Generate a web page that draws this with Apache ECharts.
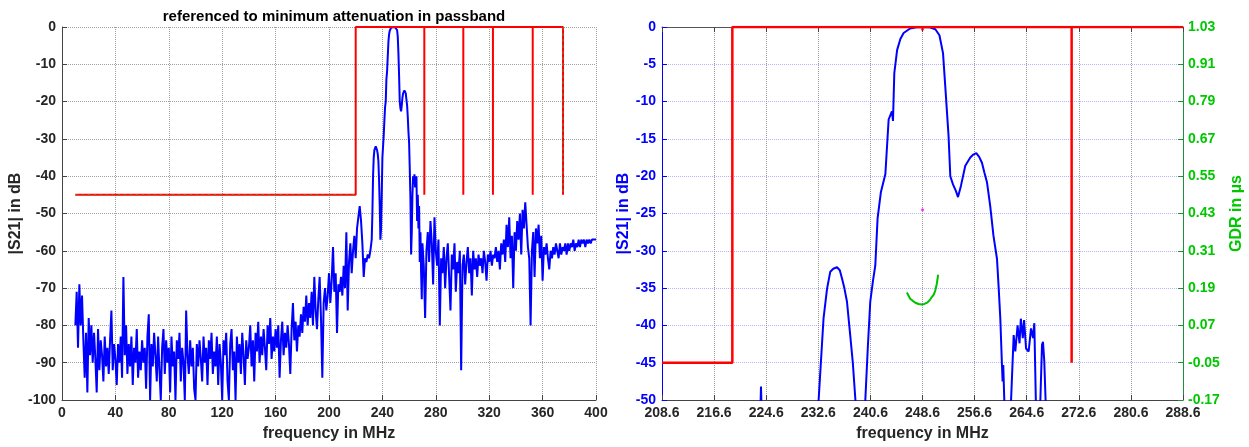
<!DOCTYPE html>
<html>
<head>
<meta charset="utf-8">
<script src="https://cdn.jsdelivr.net/npm/echarts@6/dist/echarts.min.js"></script>
<style>
  html, body { margin: 0; padding: 0; background: #fff; }
  #chart { width: 1249px; height: 447px; }
</style>
</head>
<body>
<div id="chart"></div>
<script>
// |S21| wideband trace (dB)
// 10..232 MHz, 1 MHz step
const lowStart = 10, lowStep = 1;
const s21Low = [
  -80, -71, -86, -69, -80, -72, -84, -94, -82, -98,
  -78, -88, -80, -90, -82, -89, -98, -81, -92, -84,
  -88, -95, -83, -91, -86, -93, -84, -76, -92, -85,
  -89, -96, -85, -90, -83, -94, -67, -88, -80, -93,
  -85, -91, -83, -96, -86, -90, -81, -94, -87, -92,
  -84, -90, -86, -97, -83, -77, -100, -85, -91, -82,
  -88, -95, -83, -92, -100, -86, -81, -93, -84, -90,
  -86, -98, -83, -91, -87, -100, -84, -89, -82, -95,
  -86, -90, -100, -76, -88, -93, -84, -91, -86, -97,
  -100, -85, -91, -84, -89, -95, -83, -90, -86, -96,
  -84, -89, -82, -93, -87, -91, -83, -96, -85, -90,
  -100, -84, -88, -82, -95, -100, -85, -81, -92, -87,
  -100, -83, -90, -85, -93, -82, -88, -96, -84, -89,
  -86, -80, -91, -84, -95, -82, -87, -79, -90, -83,
  -88, -81, -86, -92, -80, -85, -78, -89, -83, -87,
  -81, -86, -80, -94, -84, -79, -88, -82, -86, -80,
  -85, -93, -81, -74, -84, -79, -87, -80, -83, -77,
  -82, -75, -79, -72, -80, -74, -78, -71, -80, -67,
  -76, -81, -73, -67, -78, -94, -74, -70, -76, -72,
  -66, -74, -68, -59, -71, -66, -82, -69, -71, -67,
  -72, -64, -70, -55, -76, -63, -58, -66, -60, -56,
  -62, -54, -51, -48, -52, -58, -67, -62, -63, -61,
  -62, -60, -57
];
// 232.5..270 MHz, 0.5 MHz step (passband region)
const passStart = 232.5, passStep = 0.5;
const s21Pass = [
  -50, -40, -35, -33, -32.5, -32, -32.3, -33, -34, -36,
  -41, -48, -57, -54, -45, -35, -32, -29, -25, -21.5,
  -20, -14, -12, -11.5, -4, -2, -1, -0.5, -0.2, 0,
  0, 0, 0, 0, -0.1, -0.2, -0.3, -0.8, -2.5, -7,
  -13, -20, -21.8, -22.6, -21, -19, -17.8, -17.3, -17, -17.2,
  -17.8, -19.5, -21, -24, -28, -31, -38, -46, -61, -55,
  -45, -40, -42, -39.5, -43, -41, -40, -52, -45, -54,
  -48, -63, -55, -66, -73, -58
];
// 271..400 MHz, 1 MHz step
const highStart = 271, highStep = 1;
const s21High = [
  -64, -78, -60, -55, -63, -52, -58, -69, -51, -60,
  -64, -57, -80, -62, -66, -59, -70, -62, -58, -67,
  -76, -61, -65, -58, -71, -63, -66, -60, -92, -64,
  -61, -69, -63, -59, -66, -62, -72, -60, -65, -62,
  -67, -61, -64, -62, -66, -60, -63, -68, -61, -63,
  -60, -64, -61, -62, -59, -63, -60, -65, -58, -61,
  -57, -63, -53, -59, -51, -62, -56, -70, -55, -60,
  -52, -57, -50, -61, -49, -54, -47, -53, -59, -62,
  -80, -60, -55, -67, -54, -58, -53, -62, -56, -68,
  -59, -61, -58, -62, -65, -60, -62, -59, -61, -58,
  -60, -62, -58, -61, -59, -60, -58, -61, -58, -60,
  -58, -59, -57, -60, -58, -59, -57, -59, -57, -58,
  -57, -59, -57, -58, -57, -58, -57, -57, -57, -57
];

// tolerance mask (left plot)
const maskFreq  = [10, 220, 220, 271.4, 271.4, 271.4, 300.6, 300.6, 300.6, 322.8, 322.8, 322.8, 352.6, 352.6, 352.6, 375.3, 375.3];
const maskLevel = [-45, -45, 0, 0, -45, 0, 0, -45, 0, 0, -45, 0, 0, -45, 0, 0, -45];
const lowerMaskFreq  = [10, 220, null, 375.3, 375.3];
const lowerMaskLevel = [-45, -45, null, 0, -45];

// zoomed |S21| (right plot), finer resolution
const zoomFreq = [
  208.6, 215, 220, 223.6, 223.8, 224.0, 226, 230, 232.2,
  232.65, 233.4, 233.94, 234.44, 234.9, 235.47, 235.9, 236.24, 236.6, 237.0,
  237.5, 237.9, 238.3, 238.7, 239.3, 239.82, 240.2, 240.58, 241.0, 241.35,
  241.7, 242.2, 242.9, 243.4, 243.9, 244.07, 244.27, 244.7, 245.2, 245.7,
  246.7, 247.7, 248.77, 249.7, 250.57, 251.2, 251.75, 252.1, 252.6, 252.87,
  253.28, 253.74, 254.05, 254.5, 255.17, 255.94, 256.4, 256.86, 257.3, 257.73,
  258.1, 258.5, 259.0, 259.5, 260.04, 260.3, 260.55, 260.8, 260.9, 261.0,
  261.16, 261.6, 262.0, 262.2, 262.6, 262.85, 263.2, 263.5, 263.7, 264.0,
  264.2, 264.5, 264.9, 265.26, 265.57, 265.77, 266.0, 266.3, 266.7, 266.95,
  267.1, 267.3, 267.5, 268, 270, 275, 280, 288.6
];
const zoomS21 = [
  -62, -65, -58, -55, -48.2, -55, -67, -62, -57,
  -50, -39.1, -35.1, -32.8, -32.4, -32.2, -32.6, -33.7, -35, -36.8,
  -41.3, -45, -50, -57, -55, -50, -43, -36.8, -34, -32,
  -25.7, -22.2, -19.7, -12.4, -11.3, -12.6, -6.2, -3.1, -1.6, -0.8,
  -0.2, -0.05, 0, -0.05, -0.3, -1.1, -3.5, -8, -14.6, -20,
  -21.1, -22, -22.8, -21.3, -18.6, -17.5, -17.1, -16.9, -17.4, -18.2,
  -19.5, -20.8, -24, -28, -31.1, -35, -39.1, -45.3, -47.5, -45.3,
  -50, -61, -55, -50, -41.3, -43.5, -40, -42.4, -39.1, -41.7,
  -39.3, -43.1, -43.5, -40.4, -41.7, -39.7, -50, -54, -50, -42.6,
  -42.2, -44.8, -50, -63, -60, -63, -60, -60
];

// group delay (right axis, µs)
const gdrFreq = [246.2, 246.7, 247.1, 247.5, 248.0, 248.5, 248.9, 249.3, 249.7, 250.06, 250.35, 250.57, 250.8, 251.0];
const gdrVal  = [0.176, 0.156, 0.149, 0.143, 0.139, 0.137, 0.139, 0.143, 0.151, 0.162, 0.170, 0.183, 0.204, 0.233];

// right plot mask
const zMaskFreq  = [208.6, 219.4, 219.4, 271.5, 271.5, 271.5, 288.6];
const zMaskLevel = [-45, -45, 0, 0, -45, 0, 0];

// marker dots at centre frequency
const markFreq = [248.6, 248.6];
const markLevel = [-0.3, -24.5];

function seg(start, step, vals) {
  return vals.map((v, i) => [start + i * step, v]);
}
function pairs(xs, ys) {
  return xs.map((x, i) => (x === null ? [null, null] : [x, ys[i]]));
}

const wideData = seg(lowStart, lowStep, s21Low)
  .concat(seg(passStart, passStep, s21Pass))
  .concat(seg(highStart, highStep, s21High));

const font = 'Liberation Sans, Arial, sans-serif';
const lbl = (color) => ({ color: color, fontSize: 14, fontWeight: 'bold', fontFamily: font });
const dark = '#262626';

let chart = echarts.init(document.getElementById('chart'));
let option = {
  animation: false,
  backgroundColor: '#fff',
  textStyle: { fontFamily: font },
  title: {
    text: 'referenced to minimum attenuation in passband',
    left: 329, top: 4, textAlign: 'center',
    textStyle: { fontSize: 15, fontWeight: 'bold', color: '#000', fontFamily: font }
  },
  grid: [
    { left: 62, right: 653, top: 27, bottom: 45 },
    { left: 662, right: 66, top: 27, bottom: 45 }
  ],
  xAxis: [
    {
      type: 'value', gridIndex: 0, min: 0, max: 400, interval: 40,
      name: 'frequency in MHz', nameLocation: 'middle', nameGap: 26,
      nameTextStyle: { fontSize: 16, fontWeight: 'bold', color: dark, fontFamily: font },
      axisLine: { onZero: false, lineStyle: { color: '#444', width: 1 } },
      axisTick: { inside: true, length: 5, lineStyle: { color: '#444' } },
      axisLabel: Object.assign(lbl(dark), { margin: 6 }),
      splitLine: { show: true, lineStyle: { color: '#a0a0a0', type: 'dotted' } }
    },
    {
      type: 'value', gridIndex: 1, min: 208.6, max: 288.6, interval: 8,
      name: 'frequency in MHz', nameLocation: 'middle', nameGap: 26,
      nameTextStyle: { fontSize: 16, fontWeight: 'bold', color: dark, fontFamily: font },
      axisLine: { onZero: false, lineStyle: { color: '#444', width: 1 } },
      axisTick: { inside: true, length: 5, lineStyle: { color: '#444' } },
      axisLabel: Object.assign(lbl(dark), { margin: 6, formatter: (v) => v.toFixed(1) }),
      splitLine: { show: true, lineStyle: { color: '#9a9a9a', type: 'dotted' } }
    },
    {
      type: 'value', gridIndex: 1, position: 'top', min: 208.6, max: 288.6, interval: 8,
      axisLine: { onZero: false, lineStyle: { color: '#555', width: 1 } },
      axisTick: { inside: true, length: 5, lineStyle: { color: '#444' } },
      axisLabel: { show: false },
      splitLine: { show: false }
    }
  ],
  yAxis: [
    {
      type: 'value', gridIndex: 0, min: -100, max: 0, interval: 10,
      name: '|S21| in dB', nameLocation: 'middle', nameGap: 34,
      nameTextStyle: { fontSize: 16, fontWeight: 'bold', color: dark, fontFamily: font },
      axisLine: { show: true, onZero: false, lineStyle: { color: '#444', width: 1 } },
      axisTick: { show: true, inside: true, length: 5, lineStyle: { color: '#444' } },
      axisLabel: Object.assign(lbl(dark), { margin: 6 }),
      splitLine: { show: true, lineStyle: { color: '#a0a0a0', type: 'dotted' } }
    },
    {
      type: 'value', gridIndex: 1, min: -50, max: 0, interval: 5,
      name: '|S21| in dB', nameLocation: 'middle', nameGap: 30,
      nameTextStyle: { fontSize: 16, fontWeight: 'bold', color: '#0000ff', fontFamily: font },
      axisLine: { show: true, onZero: false, lineStyle: { color: '#0000ff', width: 1 } },
      axisTick: { show: true, inside: true, length: 5, lineStyle: { color: '#0000ff' } },
      axisLabel: Object.assign(lbl('#0000ff'), { margin: 6 }),
      splitLine: { show: true, lineStyle: { color: '#b4b4ff', type: 'dotted' } }
    },
    {
      type: 'value', gridIndex: 1, position: 'right', min: -0.17, max: 1.03, interval: 0.12,
      name: 'GDR in µs', nameLocation: 'middle', nameGap: 46, nameRotate: 90,
      nameTextStyle: { fontSize: 16, fontWeight: 'bold', color: '#00c800', fontFamily: font },
      axisLine: { show: true, onZero: false, lineStyle: { color: '#1f8f3f', width: 1 } },
      axisTick: { show: true, inside: true, length: 5, lineStyle: { color: '#1f8f3f' } },
      axisLabel: Object.assign(lbl('#00c800'), { margin: 5, formatter: (v) => v.toFixed(2) }),
      splitLine: { show: false }
    }
  ],
  series: [
    {
      name: 'S21 wide', type: 'line', xAxisIndex: 0, yAxisIndex: 0,
      showSymbol: false, data: wideData,
      lineStyle: { color: '#0000ff', width: 2 }, z: 2
    },
    {
      name: 'mask', type: 'line', xAxisIndex: 0, yAxisIndex: 0,
      showSymbol: false, data: pairs(maskFreq, maskLevel),
      lineStyle: { color: '#ff0000', width: 2 }, z: 3
    },
    {
      name: 'mask lower', type: 'line', xAxisIndex: 0, yAxisIndex: 0,
      showSymbol: false, connectNulls: false, data: pairs(lowerMaskFreq, lowerMaskLevel),
      lineStyle: { color: '#a0602a', width: 1.2, type: [3, 3] }, z: 4
    },
    {
      name: 'S21 zoom', type: 'line', xAxisIndex: 1, yAxisIndex: 1,
      showSymbol: false, clip: true, data: pairs(zoomFreq, zoomS21),
      lineStyle: { color: '#0000ff', width: 2 }, z: 2
    },
    {
      name: 'mask zoom', type: 'line', xAxisIndex: 1, yAxisIndex: 1,
      showSymbol: false, data: pairs(zMaskFreq, zMaskLevel),
      lineStyle: { color: '#ff0000', width: 2.5 }, z: 3
    },
    {
      name: 'GDR', type: 'line', xAxisIndex: 1, yAxisIndex: 2,
      showSymbol: false, data: pairs(gdrFreq, gdrVal),
      lineStyle: { color: '#00c000', width: 2 }, z: 4
    },
    {
      name: 'markers', type: 'scatter', xAxisIndex: 1, yAxisIndex: 1,
      symbolSize: 3, data: pairs(markFreq, markLevel),
      itemStyle: { color: (p) => (p.dataIndex === 0 ? '#ff0000' : '#ff00ff') }, z: 5
    }
  ]
};
chart.setOption(option);
</script>
</body>
</html>
